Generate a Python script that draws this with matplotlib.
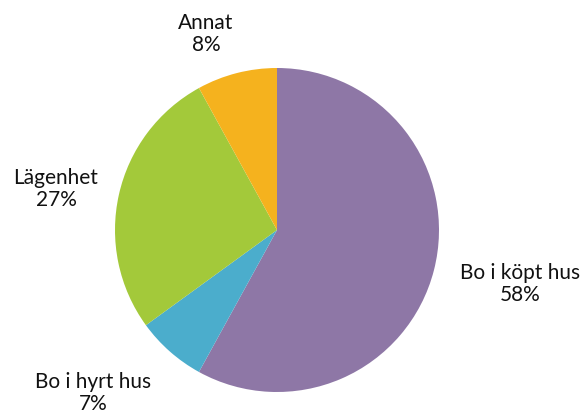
import matplotlib.pyplot as plt

labels = ['Bo i köpt hus', 'Bo i hyrt hus', 'Lägenhet', 'Annat']
values = [58, 7, 27, 8]
colors = ['#8E77A6', '#4BADCC', '#A3C93A', '#F5B21E']
# label centres in pie-radius units
label_x = [1.50, -1.136, -1.364, -0.438]
label_y = [-0.327, -1.00, 0.259, 1.216]

W, H = 585, 414
cx, cy, r = 277, 183, 162  # centre from bottom, radius (px)

fig = plt.figure(figsize=(W / 100, H / 100), dpi=100)
ax = fig.add_axes([0, 0, 1, 1])
ax.pie(values, colors=colors, startangle=90, counterclock=False, radius=1,
       wedgeprops=dict(linewidth=0))
ax.set_xlim(-cx / r, (W - cx) / r)
ax.set_ylim(-cy / r, (H - cy) / r)
ax.set_aspect('equal')
ax.axis('off')

for lab, v, x, y in zip(labels, values, label_x, label_y):
    ax.text(x, y, f'{lab}\n{v}%', ha='center', va='center', fontsize=15,
            family='Lato', color='#111111', linespacing=1.15)

fig.savefig('out.png', dpi=100)
